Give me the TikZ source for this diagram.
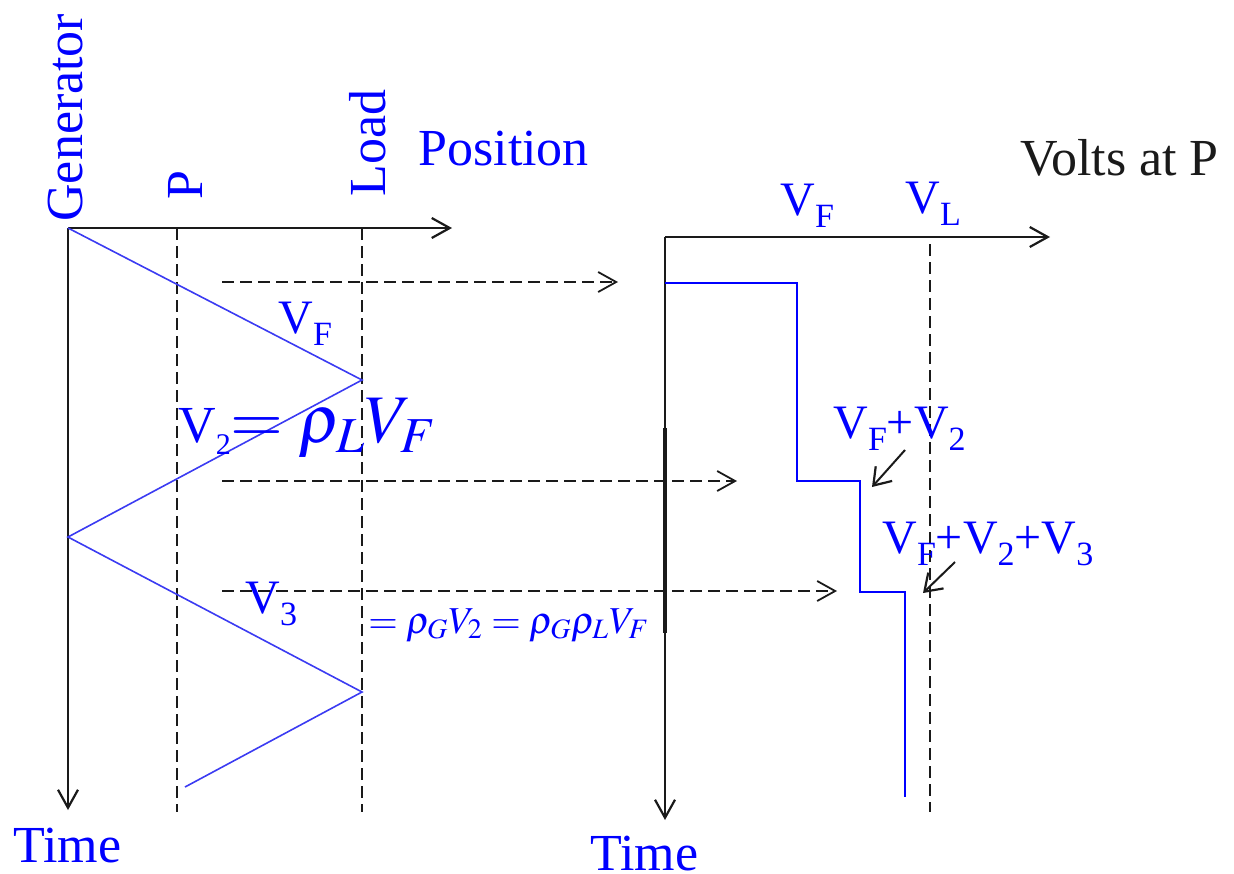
\documentclass[tikz,border=0pt]{standalone}
\usepackage{mathptmx}
\usepackage{fontspec}
\setmainfont{Liberation Serif}
\usetikzlibrary{
  positioning,
  arrows.meta,
  calc,
}
\definecolor{inkBlue}{HTML}{0000FF}
\definecolor{waveBlue}{HTML}{3B3BF2}
\definecolor{axisCol}{HTML}{1A1A1A}
% lowered subscript, as in the drawing
\newcommand{\dn}[2][17]{\raisebox{-6pt}{\fontsize{#1}{#1}\selectfont #2}}
\tikzset{
  axis/.style={-{Straight Barb[length=9pt,width=10pt,line width=1.1pt]}, draw=axisCol, line width=1.1pt},
  guide/.style={draw=axisCol, line width=0.9pt, dash pattern=on 6pt off 3pt},
  guidearrow/.style={guide, -{Straight Barb[length=9pt,width=10pt,line width=0.9pt]}},
  bounce/.style={draw=waveBlue, line width=0.8pt},
  stairs/.style={draw=inkBlue, line width=1.2pt},
  pointer/.style={-{Straight Barb[length=8pt,width=11pt,line width=1.1pt]}, draw=axisCol, line width=1pt},
  lbl/.style={text=inkBlue, inner sep=0pt, anchor=base west, font=\fontsize{26}{30}\selectfont},
  vlbl/.style={lbl, font=\fontsize{24}{28}\selectfont},
  sidelbl/.style={lbl, rotate=90},
}

\begin{document}
\begin{tikzpicture}[x=0.5pt, y=-0.5pt]

  \useasboundingbox (0,0) rectangle (1234,873);

  % Position-time plane
  \coordinate (gen) at (68,228);
  \coordinate (posTip) at (452,228);
  \coordinate (timeTip) at (68,810);
  \coordinate (pTop) at (177,228);
  \coordinate (pBot) at (177,812);
  \coordinate (loadTop) at (362,228);
  \coordinate (loadBot) at (362,812);

  \draw[guide] (pTop) -- (pBot);
  \draw[guide] (loadTop) -- (loadBot);
  \draw[axis] (gen) -- (posTip);
  \draw[axis] (gen) -- (timeTip);

  \node[sidelbl] (genLbl) at (82,222) {Generator};
  \node[sidelbl] (pLbl) at (202,200) {P};
  \node[sidelbl] (loadLbl) at (385,197) {Load};
  \node[lbl] (posLbl) at (418,165) {Position};
  \node[lbl] (timeLbl) at (13,862) {Time};

  % Bouncing wave
  \coordinate (r1) at (362,380);
  \coordinate (g1) at (68,537);
  \coordinate (r2) at (362,692);
  \coordinate (tail) at (185,787);
  \draw[bounce] (gen) -- (r1) -- (g1) -- (r2) -- (tail);

  \node[vlbl] (vfLbl) at (278,333) {V\dn{F}};
  \node[lbl] (v2Lbl) at (178,442) {V\dn[15]{2}{\fontsize{34}{38}\selectfont$=\rho_L V_F$}};
  \node[vlbl] (v3Lbl) at (245,613) {V\dn{3}};
  \node[lbl, font=\fontsize{19}{22}\selectfont] (v3Eq) at (368,633) {$=\rho_G V_2=\rho_G\rho_L V_F$};

  % Projections onto the voltage plot
  \coordinate (h1a) at (222,282);
  \coordinate (h1b) at (618,282);
  \coordinate (h2a) at (222,481);
  \coordinate (h2b) at (737,481);
  \coordinate (h3a) at (222,591);
  \coordinate (h3b) at (837,591);
  \draw[guidearrow] (h1a) -- (h1b);
  \draw[guidearrow] (h2a) -- (h2b);
  \draw[guidearrow] (h3a) -- (h3b);

  % Voltage-time plane
  \coordinate (vo) at (665,237);
  \coordinate (voltTip) at (1050,237);
  \coordinate (vtimeTip) at (665,820);
  \coordinate (vlTop) at (930,244);
  \coordinate (vlBot) at (930,812);
  \coordinate (thickA) at (665,428);
  \coordinate (thickB) at (665,633);

  \draw[guide] (vlTop) -- (vlBot);
  \draw[axis] (vo) -- (voltTip);
  \draw[axis] (vo) -- (vtimeTip);
  \draw[draw=axisCol, line width=1.9pt] (thickA) -- (thickB);

  \node[lbl, text=axisCol] (voltLbl) at (1020,175) {Volts at P};
  \node[lbl] (vtimeLbl) at (590,870) {Time};
  \node[vlbl] (vfTop) at (780,215) {V\dn{F}};
  \node[vlbl] (vlTopLbl) at (905,213) {V\dn{L}};

  % Voltage steps at P
  \coordinate (s0) at (665,283);
  \coordinate (s1) at (797,481);
  \coordinate (s2) at (860,592);
  \coordinate (s3) at (905,797);
  \draw[stairs] (s0) -| (s1) -| (s2) -| (s3);

  \node[vlbl] (sum2) at (833,438) {V\dn{F}+V\dn{2}};
  \node[vlbl] (sum3) at (882,553) {V\dn{F}+V\dn{2}+V\dn{3}};
  \coordinate (pa1) at (905,450);
  \coordinate (pb1) at (872,487);
  \coordinate (pa2) at (955,562);
  \coordinate (pb2) at (923,593);
  \draw[pointer] (pa1) -- (pb1);
  \draw[pointer] (pa2) -- (pb2);

\end{tikzpicture}
\end{document}
